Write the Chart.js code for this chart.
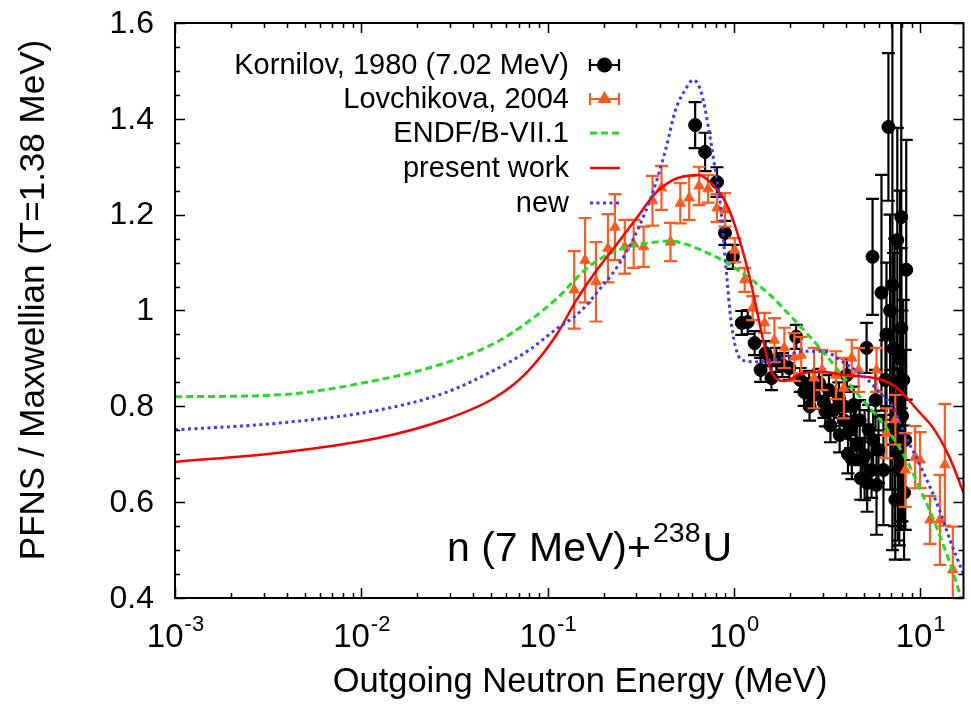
<!DOCTYPE html>
<html>
<head>
<meta charset="utf-8">
<script src="https://cdn.jsdelivr.net/npm/chart.js@4.4.1/dist/chart.umd.min.js"></script>
<style>
  html, body { margin: 0; padding: 0; background: #fff; }
  #pfns { display: block; }
</style>
</head>
<body>
<canvas id="pfns" width="971" height="705"></canvas>
<script>
// PFNS for n(7 MeV)+238U, shown as ratio to a Maxwellian with T=1.38 MeV.
// Energies in MeV.

// Kornilov, 1980 (7.02 MeV)
var kornilovE = [0.620, 0.701, 0.812, 0.896, 0.988, 1.103, 1.187, 1.293, 1.392, 1.480,
                 1.593, 1.693, 1.823, 1.986, 2.163, 2.272, 2.386, 2.537, 2.697, 2.868,
                 3.048, 3.240, 3.445, 3.663, 3.894, 4.040, 4.243, 4.401, 4.566, 4.737,
                 4.914, 5.037, 5.162, 5.290, 5.488, 5.555, 5.763, 5.834, 5.979, 6.204,
                 6.357, 6.515, 6.760, 6.928, 7.099, 7.362, 7.545, 7.545, 7.732, 7.924,
                 7.924, 8.122, 8.323, 8.425, 3.300, 4.100, 4.800, 2.550, 3.100, 3.700,
                 4.300, 5.200, 5.600, 4.500, 3.900, 6.600, 6.900, 7.200, 7.300, 7.600,
                 7.800, 8.000, 8.200];
var kornilovR = [1.387, 1.331, 1.268, 1.162, 1.112, 0.974, 0.976, 0.932, 0.876, 0.911,
                 0.859, 0.897, 0.886, 0.880, 0.945, 0.855, 0.830, 0.845, 0.824, 0.849,
                 0.807, 0.834, 0.792, 0.817, 0.771, 0.865, 0.751, 0.803, 0.719, 0.771,
                 0.688, 0.698, 0.922, 0.751, 0.667, 1.112, 0.813, 0.636, 0.709, 1.037,
                 0.667, 0.855, 1.383, 0.751, 1.053, 0.605, 0.813, 1.147, 0.667, 1.195,
                 0.963, 0.855, 0.730, 1.085, 0.760, 0.700, 0.650, 0.800, 0.790, 0.740,
                 0.690, 0.640, 0.730, 0.770, 0.800, 0.950, 1.000, 0.920, 0.850, 0.700,
                 0.900, 0.780, 0.620];
var kornilovErr = [0.048, 0.040, 0.031, 0.025, 0.025, 0.025, 0.025, 0.025, 0.025, 0.025,
                   0.025, 0.025, 0.025, 0.025, 0.025, 0.025, 0.029, 0.029, 0.029, 0.029,
                   0.031, 0.031, 0.033, 0.033, 0.035, 0.035, 0.038, 0.038, 0.042, 0.042,
                   0.046, 0.094, 0.052, 0.052, 0.058, 0.121, 0.063, 0.104, 0.069, 0.246,
                   0.115, 0.083, 0.154, 0.125, 0.553, 0.125, 0.146, 0.234, 0.157, 0.653,
                   0.167, 0.167, 0.188, 0.271, 0.035, 0.040, 0.045, 0.030, 0.032, 0.036,
                   0.042, 0.060, 0.060, 0.040, 0.035, 0.150, 0.200, 0.200, 0.300, 0.180,
                   0.350, 0.220, 0.140];

// Lovchikova, 2004
var lovchikovaE = [0.139, 0.159, 0.182, 0.211, 0.230, 0.260, 0.290, 0.328, 0.366, 0.409,
                   0.457, 0.516, 0.576, 0.651, 0.727, 0.812, 0.896, 1.012, 1.144, 1.262,
                   1.462, 1.652, 1.867, 2.110, 2.300, 2.697, 2.974, 3.531, 3.894, 4.295,
                   4.679, 5.834, 6.594, 7.362, 8.323, 9.406, 10.00, 11.30, 12.78, 13.58,
                   14.98];
var lovchikovaR = [1.043, 1.105, 1.060, 1.130, 1.174, 1.133, 1.139, 1.133, 1.229, 1.256,
                   1.143, 1.224, 1.235, 1.260, 1.254, 1.214, 1.210, 1.126, 1.064, 1.005,
                   0.974, 0.938, 0.922, 0.903, 0.907, 0.859, 0.876, 0.865, 0.838, 0.901,
                   0.876, 0.876, 0.744, 0.772, 0.667, 0.694, 0.688, 0.563, 0.563, 0.678,
                   0.459];
var lovchikovaErr = [0.081, 0.088, 0.083, 0.071, 0.069, 0.056, 0.050, 0.042, 0.052, 0.046,
                     0.040, 0.042, 0.046, 0.040, 0.029, 0.029, 0.035, 0.025, 0.025, 0.025,
                     0.021, 0.046, 0.042, 0.050, 0.038, 0.063, 0.042, 0.050, 0.063, 0.038,
                     0.046, 0.046, 0.052, 0.052, 0.077, 0.065, 0.058, 0.050, 0.094, 0.127,
                     0.090];

// ENDF/B-VII.1
var endfE = [0.001, 0.0036, 0.0123, 0.028, 0.052, 0.077, 0.112, 0.167, 0.254, 0.38,
             0.45, 0.67, 1.0, 1.52, 2.0, 3.0, 4.0, 5.0, 6.0, 7.0,
             8.0, 9.0, 10.0, 11.0, 12.0, 13.0, 14.0, 15.0, 16.0, 17.1];
var endfR = [0.820, 0.824, 0.855, 0.890, 0.932, 0.974, 1.025, 1.092, 1.130, 1.143,
             1.145, 1.126, 1.090, 1.037, 0.990, 0.915, 0.855, 0.810, 0.775, 0.740,
             0.705, 0.667, 0.627, 0.592, 0.557, 0.522, 0.488, 0.455, 0.420, 0.380];

// present work
var presentE = [0.001, 0.0036, 0.0123, 0.028, 0.052, 0.077, 0.112, 0.142, 0.182, 0.232,
                0.297, 0.38, 0.47, 0.53, 0.644, 0.79, 0.93, 1.10, 1.25, 1.41,
                1.52, 1.62, 1.87, 2.30, 2.94, 3.89, 5.0, 6.36, 7.45, 8.43,
                10.0, 11.7, 14.4, 17.1];
var presentR = [0.684, 0.703, 0.734, 0.772, 0.818, 0.870, 0.950, 1.020, 1.082, 1.135,
                1.190, 1.245, 1.272, 1.279, 1.283, 1.258, 1.216, 1.133, 1.049, 0.953,
                0.897, 0.866, 0.853, 0.868, 0.872, 0.866, 0.862, 0.854, 0.840, 0.819,
                0.786, 0.756, 0.693, 0.620];

// new
var newE = [0.001, 0.0036, 0.0123, 0.028, 0.052, 0.08, 0.112, 0.137, 0.161, 0.189,
            0.224, 0.263, 0.309, 0.366, 0.43, 0.486, 0.547, 0.605, 0.67, 0.73,
            0.79, 0.843, 0.90, 0.975, 1.10, 1.3, 1.8, 2.3, 3.0, 3.9,
            5.1, 6.2, 7.1, 8.4, 10.2, 12.7, 14.5, 17.1];
var newR = [0.751, 0.765, 0.792, 0.828, 0.876, 0.918, 0.962, 0.985, 1.010, 1.043,
            1.078, 1.120, 1.174, 1.245, 1.335, 1.418, 1.460, 1.481, 1.454, 1.383,
            1.300, 1.230, 1.105, 0.966, 0.897, 0.893, 0.900, 0.915, 0.915, 0.891,
            0.859, 0.825, 0.800, 0.736, 0.670, 0.584, 0.520, 0.450];

var yTicks = [0.4, 0.6, 0.8, 1.0, 1.2, 1.4, 1.6];
var xDecades = [-3, -2, -1, 0, 1];

var FONT = '"Liberation Sans", Arial, Helvetica, sans-serif';
var ORANGE = '#ff5a1e';

function pts(xs, ys) {
    return xs.map(function(x, i) { return { x: x, y: ys[i] }; });
}

// vertical error bars with caps, drawn just before each dataset's markers
var errorBars = {
    id: 'errorBars',
    beforeDatasetDraw: function(chart, args) {
        var ds = chart.data.datasets[args.index];
        if (!ds.errors) return;
        var ctx = chart.ctx, xs = chart.scales.x, ys = chart.scales.y, a = chart.chartArea;
        ctx.save();
        ctx.beginPath();
        ctx.rect(a.left, a.top, a.right - a.left, a.bottom - a.top);
        ctx.clip();
        ctx.strokeStyle = ds.borderColor;
        ctx.lineWidth = 2.2;
        ds.data.forEach(function(p, i) {
            var px = xs.getPixelForValue(p.x);
            var hi = ys.getPixelForValue(p.y + ds.errors[i]);
            var lo = ys.getPixelForValue(p.y - ds.errors[i]);
            ctx.beginPath();
            ctx.moveTo(px, hi); ctx.lineTo(px, lo);
            ctx.moveTo(px - 6.5, hi); ctx.lineTo(px + 6.5, hi);
            ctx.moveTo(px - 6.5, lo); ctx.lineTo(px + 6.5, lo);
            ctx.stroke();
        });
        ctx.restore();
    }
};

// gnuplot style frame: border, inward ticks, labels, key and the reaction label
var frame = {
    id: 'frame',
    afterDraw: function(chart) {
        var ctx = chart.ctx, xs = chart.scales.x, ys = chart.scales.y, a = chart.chartArea;
        ctx.save();
        ctx.strokeStyle = '#000';
        ctx.lineWidth = 2;
        ctx.strokeRect(a.left, a.top, a.right - a.left, a.bottom - a.top);

        ctx.lineWidth = 1.5;
        ctx.beginPath();
        for (var d = -3; d <= 1; d++) {
            for (var k = 1; k <= 9; k++) {
                var v = k * Math.pow(10, d);
                if (v > xs.max) break;
                var px = Math.round(xs.getPixelForValue(v)) + 0.5;
                var len = k === 1 ? 10 : 5;
                ctx.moveTo(px, a.bottom); ctx.lineTo(px, a.bottom - len);
                ctx.moveTo(px, a.top); ctx.lineTo(px, a.top + len);
            }
        }
        for (var t = 0.4; t <= 1.6001; t += 0.05) {
            var py = Math.round(ys.getPixelForValue(t)) + 0.5;
            var major = Math.abs(t * 5 - Math.round(t * 5)) < 1e-6;
            var l = major ? 10 : 5;
            ctx.moveTo(a.left, py); ctx.lineTo(a.left + l, py);
            ctx.moveTo(a.right, py); ctx.lineTo(a.right - l, py);
        }
        ctx.stroke();

        ctx.fillStyle = '#000';
        ctx.font = '32px ' + FONT;
        ctx.textAlign = 'right';
        ctx.textBaseline = 'middle';
        yTicks.forEach(function(t) {
            ctx.fillText(t === 1 ? '1' : t.toFixed(1), a.left - 21, ys.getPixelForValue(t) + 1);
        });

        ctx.textAlign = 'left';
        ctx.textBaseline = 'alphabetic';
        xDecades.forEach(function(d) {
            var cx = xs.getPixelForValue(Math.pow(10, d));
            var exp = String(d);
            ctx.font = '33px ' + FONT;
            var w1 = ctx.measureText('10').width;
            ctx.font = '22px ' + FONT;
            var w2 = ctx.measureText(exp).width;
            var x0 = cx - (w1 + w2) / 2;
            ctx.font = '33px ' + FONT;
            ctx.fillText('10', x0, 647);
            ctx.font = '22px ' + FONT;
            ctx.fillText(exp, x0 + w1 + 1, 631);
        });

        ctx.font = '34.5px ' + FONT;
        ctx.textAlign = 'center';
        ctx.fillText('Outgoing Neutron Energy (MeV)', 580, 692);

        ctx.save();
        ctx.translate(44, 300);
        ctx.rotate(-Math.PI / 2);
        ctx.font = '35px ' + FONT;
        ctx.fillText('PFNS / Maxwellian (T=1.38 MeV)', 0, 0);
        ctx.restore();

        // key
        ctx.font = '29px ' + FONT;
        ctx.textAlign = 'right';
        ctx.textBaseline = 'middle';
        var keyY = [65, 99, 133, 168, 203];
        chart.data.datasets.forEach(function(ds, i) {
            var y = keyY[i];
            ctx.fillStyle = '#000';
            ctx.fillText(ds.label, 569, y + 1);
            ctx.save();
            ctx.strokeStyle = ds.borderColor;
            ctx.fillStyle = ds.backgroundColor;
            ctx.lineWidth = ds.errors ? 2.2 : ds.borderWidth;
            if (ds.errors) {
                ctx.beginPath();
                ctx.moveTo(590, y); ctx.lineTo(619, y);
                ctx.moveTo(590, y - 6); ctx.lineTo(590, y + 6);
                ctx.moveTo(619, y - 6); ctx.lineTo(619, y + 6);
                ctx.stroke();
                Chart.helpers.drawPoint(ctx, { pointStyle: ds.pointStyle, radius: ds.pointRadius, borderWidth: 1, rotation: 0 }, 604.5, y);
            } else {
                ctx.setLineDash(ds.borderDash || []);
                ctx.beginPath();
                ctx.moveTo(590, y); ctx.lineTo(620, y);
                ctx.stroke();
            }
            ctx.restore();
        });

        // reaction label
        ctx.fillStyle = '#000';
        ctx.textAlign = 'left';
        ctx.textBaseline = 'alphabetic';
        ctx.font = '41px ' + FONT;
        var s1 = 'n (7 MeV)+';
        ctx.fillText(s1, 447, 561);
        var xw = 447 + ctx.measureText(s1).width + 2;
        ctx.font = '28.5px ' + FONT;
        ctx.fillText('238', xw, 542);
        xw += ctx.measureText('238').width + 2;
        ctx.font = '41px ' + FONT;
        ctx.fillText('U', xw, 561);
        ctx.restore();
    }
};

new Chart(document.getElementById('pfns'), {
    type: 'scatter',
    data: {
        datasets: [
            { label: 'Kornilov, 1980 (7.02 MeV)', data: pts(kornilovE, kornilovR), errors: kornilovErr,
              borderColor: '#000', backgroundColor: '#000', pointStyle: 'circle', pointRadius: 6.5,
              borderWidth: 1, showLine: false, order: 5 },
            { label: 'Lovchikova, 2004', data: pts(lovchikovaE, lovchikovaR), errors: lovchikovaErr,
              borderColor: ORANGE, backgroundColor: ORANGE, pointStyle: 'triangle', pointRadius: 6,
              borderWidth: 1, showLine: false, order: 4 },
            { label: 'ENDF/B-VII.1', data: pts(endfE, endfR), borderColor: '#22dd22', backgroundColor: '#22dd22',
              borderWidth: 3, borderDash: [7, 4], pointRadius: 0, showLine: true,
              cubicInterpolationMode: 'monotone', order: 3 },
            { label: 'present work', data: pts(presentE, presentR), borderColor: '#ff0000', backgroundColor: '#ff0000',
              borderWidth: 2.5, pointRadius: 0, showLine: true, cubicInterpolationMode: 'monotone', order: 2 },
            { label: 'new', data: pts(newE, newR), borderColor: '#3a3aff', backgroundColor: '#3a3aff',
              borderWidth: 3, borderDash: [3, 3.5], pointRadius: 0, showLine: true,
              cubicInterpolationMode: 'monotone', order: 1 }
        ]
    },
    options: {
        responsive: false,
        animation: false,
        devicePixelRatio: 1,
        layout: { padding: { top: 23, right: 0, bottom: 0, left: 0 } },
        plugins: { legend: { display: false }, tooltip: { enabled: false } },
        scales: {
            x: {
                type: 'logarithmic', min: 0.001, max: 17.1,
                grid: { display: false }, border: { display: false }, ticks: { display: false },
                afterFit: function(scale) { scale.height = 107; }
            },
            y: {
                type: 'linear', min: 0.4, max: 1.6,
                grid: { display: false }, border: { display: false }, ticks: { display: false },
                afterFit: function(scale) { scale.width = 175; }
            }
        }
    },
    plugins: [errorBars, frame]
});
</script>
</body>
</html>
